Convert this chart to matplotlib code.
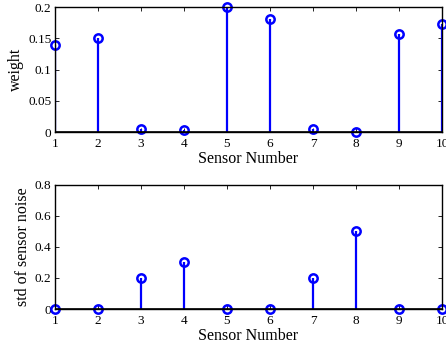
import numpy as np
import matplotlib
matplotlib.use("Agg")
import matplotlib.pyplot as plt

plt.rcParams['font.family'] = ['Liberation Serif', 'DejaVu Serif']

sensors = np.arange(1, 11)
weight = [0.140, 0.150, 0.006, 0.003, 0.1995, 0.1805, 0.0054, 0.0005, 0.1565, 0.173]
noise_std = [0, 0, 0.2, 0.3, 0, 0, 0.2, 0.5, 0, 0]

fig = plt.figure(figsize=(4.46, 3.46), dpi=100)

W, H = 446., 346.
ax1 = fig.add_axes([55/W, 1 - 132.3/H, 387/W, 125.3/H])
ax2 = fig.add_axes([55/W, 1 - 309/H, 387/W, 124.3/H])


def stemplot(ax, y, ymax, yticks, ylabel):
    ml, sl, bl = ax.stem(sensors, y, basefmt='k-')
    plt.setp(sl, color='#0000ff', linewidth=1.6)
    plt.setp(ml, marker='o', markersize=6, markerfacecolor='none',
             markeredgecolor='#0000ff', markeredgewidth=1.8, clip_on=False)
    plt.setp(bl, linewidth=1.2, color='k')
    ax.set_xlim(1, 10)
    ax.set_ylim(0, ymax)
    ax.set_xticks(sensors)
    ax.set_yticks(yticks)
    ax.set_yticklabels([('%g' % t) for t in yticks])
    ax.tick_params(direction='in', top=True, right=True, labelsize=9.5,
                   length=3, width=0.6, pad=2.5)
    ax.tick_params(axis='x', pad=4)
    for s in ax.spines.values():
        s.set_linewidth(1.0)
    ax.set_xlabel('Sensor Number', fontsize=11.5, labelpad=1)
    ax.set_ylabel(ylabel, fontsize=11.5, labelpad=3)


stemplot(ax1, weight, 0.2, [0, 0.05, 0.1, 0.15, 0.2], 'weight')
stemplot(ax2, noise_std, 0.8, [0, 0.2, 0.4, 0.6, 0.8], 'std of sensor noise')

fig.savefig('out.png', dpi=100)
